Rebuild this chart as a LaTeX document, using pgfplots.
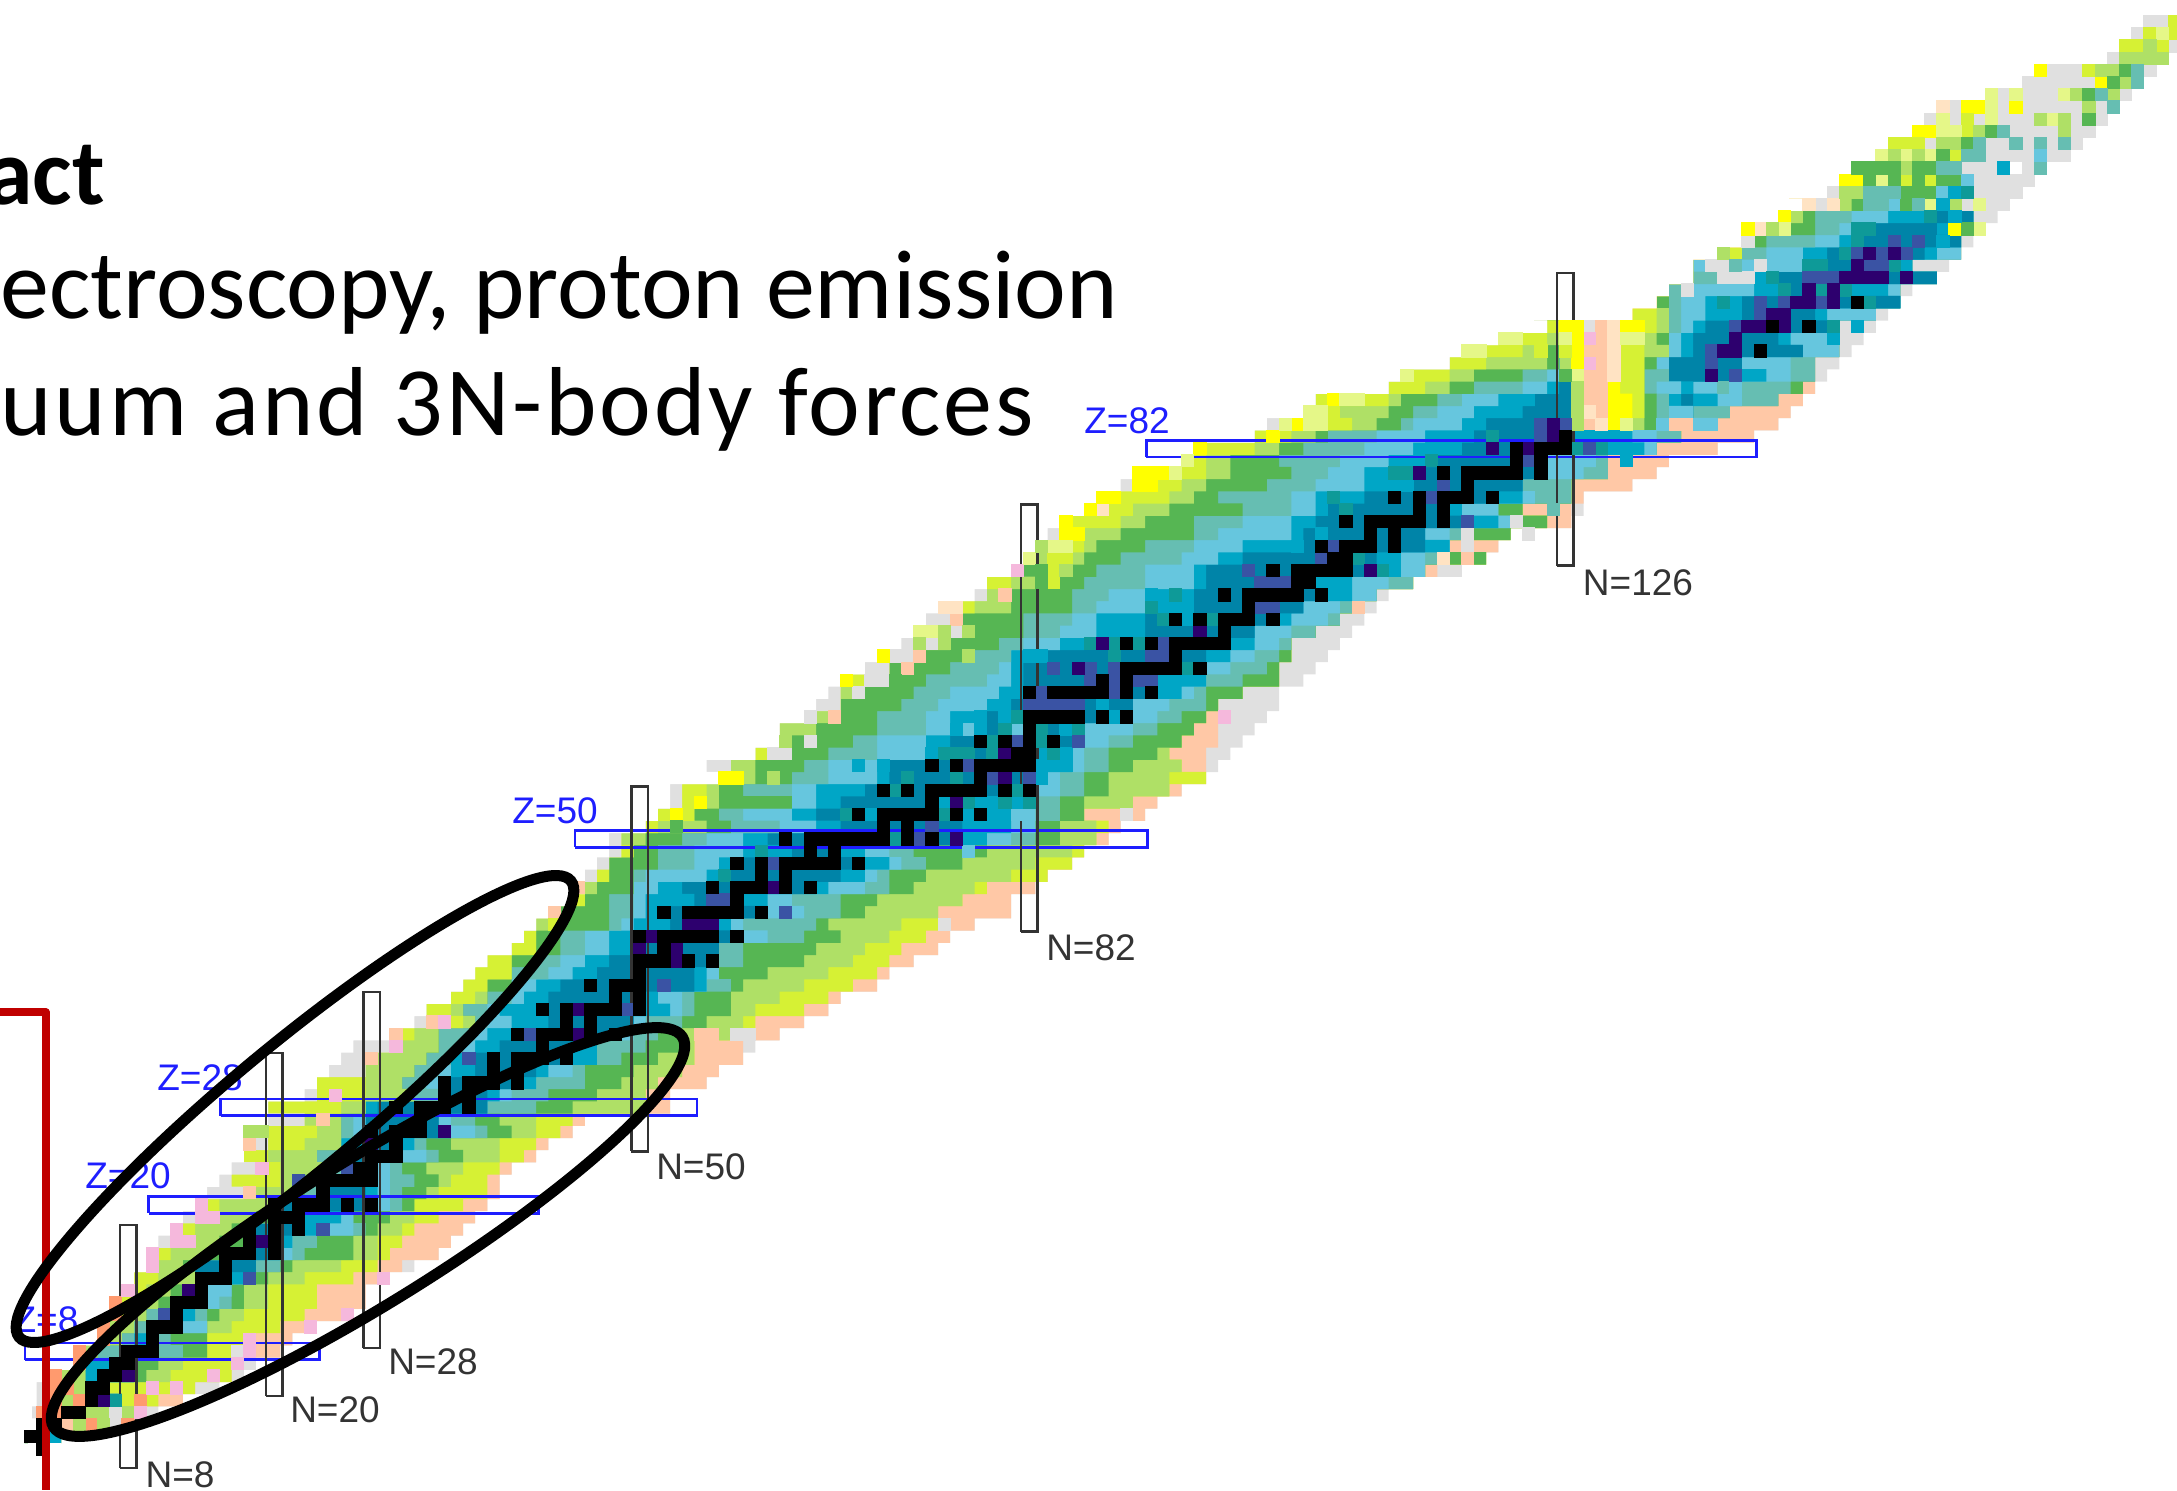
\documentclass[border=0pt]{standalone}
\usepackage{fontspec}
\setmainfont{Carlito}
\newfontfamily\lab{Liberation Sans}
\usepackage{pgfplots}
\usepackage{pgfplotstable}
\pgfplotsset{compat=1.18}
\definecolor{cgray}{HTML}{E0E0E0}
\definecolor{cpeach}{HTML}{FFC8A6}
\definecolor{cyel}{HTML}{FFFF00}
\definecolor{clime}{HTML}{D6F134}
\definecolor{cpale}{HTML}{E5F788}
\definecolor{clgreen}{HTML}{AFE066}
\definecolor{cgreen}{HTML}{56B653}
\definecolor{ctg}{HTML}{66BEB2}
\definecolor{clblue}{HTML}{66C6DE}
\definecolor{ccyan}{HTML}{00A6C6}
\definecolor{cteal}{HTML}{0E9A98}
\definecolor{cdeep}{HTML}{0084A8}
\definecolor{cblue}{HTML}{3A53A4}
\definecolor{cpurple}{HTML}{2D006E}
\definecolor{cpink}{HTML}{F5B8DC}
\definecolor{clpeach}{HTML}{FFE3C3}
\definecolor{csalmon}{HTML}{FF9A6E}
\definecolor{cred}{HTML}{C00000}
\definecolor{cbox}{HTML}{333333}
\definecolor{cz}{HTML}{1E1EFF}
% last N of each colour band, row by row (left to right along the row)
\pgfplotstableread{
Z W g1 l1 a1 G1 t1 b1 c1 e c2 b2 t2 G2 a2 l2 o g2
1 -1 -1 -1 -1 -1 -1 -1 -1 1 2 2 2 2 2 2 2 2
2 0 0 0 0 0 0 0 0 2 2 2 2 2 2 2 8 8
3 -1 0 0 2 2 2 2 2 4 4 4 4 4 8 8 8 10
4 0 1 1 3 3 3 3 3 7 7 7 7 7 7 10 12 12
5 0 1 1 4 4 4 4 4 6 6 6 6 6 6 13 13 15
6 1 1 1 4 4 4 4 5 8 8 8 8 9 11 16 16 17
7 3 3 3 4 4 4 4 6 8 8 8 8 10 12 16 17 18
8 3 3 3 5 5 7 7 7 10 10 10 12 14 14 16 20 20
9 5 5 6 7 7 8 8 9 10 10 10 11 14 14 17 21 21
10 5 5 6 8 8 9 9 9 12 12 14 14 14 16 20 23 23
11 6 6 8 9 9 10 10 10 12 13 13 14 15 17 22 26 26
12 6 6 8 10 11 11 11 11 14 14 15 16 17 19 23 27 27
13 7 7 9 11 12 12 12 13 14 14 16 16 17 19 23 27 27
14 8 8 10 13 13 13 13 13 16 17 18 18 19 22 26 28 29
15 9 9 10 12 13 13 13 13 18 18 18 20 21 25 28 30 31
16 9 9 11 14 15 15 15 15 20 20 21 22 26 28 29 33 33
17 10 11 13 15 17 17 17 17 20 21 21 23 26 28 30 34 34
18 11 11 13 16 18 18 18 18 22 23 26 27 28 30 31 35 35
19 12 13 15 18 19 19 19 19 22 25 26 26 29 31 33 36 36
20 13 13 15 19 19 19 19 19 28 28 29 30 31 31 35 37 37
21 14 17 18 21 22 23 24 24 27 28 29 30 32 33 37 38 38
22 15 16 20 22 22 23 23 23 28 28 29 31 33 34 37 38 38
23 16 18 20 24 24 25 25 25 28 28 29 30 32 35 38 39 39
24 17 17 19 23 23 25 25 25 30 30 32 33 35 38 40 41 41
25 17 19 22 25 25 25 25 27 30 31 31 32 34 38 41 42 42
26 17 17 23 25 25 26 27 27 34 34 36 37 39 41 43 44 44
27 19 22 22 25 25 26 27 27 33 33 34 36 38 41 44 45 45
28 19 19 25 27 27 27 27 28 37 37 37 41 44 50 50 52 52
29 22 23 27 31 31 33 33 33 37 38 39 42 46 50 50 52 52
30 23 23 27 30 30 32 33 33 40 41 41 45 48 51 51 55 55
31 24 27 27 31 31 33 34 36 41 42 44 45 49 53 53 56 56
32 25 27 28 32 32 34 34 36 44 46 46 48 51 54 54 58 58
33 26 29 30 33 33 35 36 38 44 46 46 50 53 54 54 58 59
34 29 29 31 33 33 36 37 40 48 48 49 51 53 57 57 61 61
35 31 32 35 36 36 37 39 42 49 49 50 53 55 58 59 63 63
36 32 32 34 35 35 37 38 41 50 52 53 54 57 59 63 65 65
37 34 34 36 37 37 39 40 42 50 51 53 54 57 61 65 66 66
38 35 35 37 37 39 39 41 43 54 55 55 57 58 63 67 69 69
39 36 36 39 39 39 42 44 46 54 55 56 56 60 65 69 70 70
40 37 37 39 39 41 43 45 47 56 56 56 58 63 67 70 72 72
41 39 39 41 41 43 45 47 49 56 56 56 58 64 68 71 74 74
42 40 40 41 41 43 45 47 49 58 58 60 63 66 70 73 75 75
43 41 41 41 42 47 48 49 52 56 57 58 64 65 71 74 77 77
44 42 42 42 43 47 49 50 51 60 60 63 66 68 74 74 80 80
45 44 44 45 45 47 49 50 54 58 60 62 66 69 76 76 80 80
46 45 45 45 46 49 49 51 53 64 65 68 70 72 77 78 82 82
47 45 46 47 47 49 50 55 57 66 68 69 70 73 80 83 83 83
48 46 47 47 47 51 54 56 57 68 70 71 73 76 82 85 85 85
49 47 48 49 49 51 54 58 62 66 68 70 72 78 85 86 86 86
50 47 48 48 50 53 55 58 60 76 78 80 82 84 87 87 88 88
51 50 50 51 55 57 61 64 66 76 80 82 82 84 87 88 89 89
52 51 51 54 54 56 58 62 64 78 80 82 84 86 86 86 91 91
53 52 53 55 56 62 62 64 66 76 82 82 84 86 90 90 92 92
54 52 53 55 56 58 62 64 68 82 82 84 86 88 93 93 94 94
55 56 56 58 59 62 65 69 70 82 83 84 86 88 93 96 96 96
56 55 57 57 59 63 65 69 70 82 85 86 88 90 94 94 96 97
57 59 59 60 60 65 69 73 75 82 85 86 88 92 93 93 96 98
58 61 62 62 62 67 69 73 75 86 86 88 90 94 94 94 97 99
59 61 61 61 64 69 73 75 78 84 85 90 92 95 95 95 97 100
60 63 64 64 65 69 73 75 78 90 90 92 94 96 96 96 98 101
61 64 66 66 66 71 74 78 80 90 90 93 96 97 97 97 97 102
62 65 66 66 67 72 75 79 81 92 94 95 96 99 99 99 99 102
63 66 66 68 71 73 78 80 81 92 96 96 99 102 102 102 102 104
64 68 70 70 70 75 79 80 81 96 96 98 101 102 102 102 102 105
65 69 69 70 70 76 80 80 82 96 98 100 102 103 103 103 103 106
66 71 72 72 75 79 81 84 86 98 100 102 103 103 103 103 103 107
67 72 72 74 75 81 84 87 91 100 100 103 105 105 105 105 105 108
68 73 75 75 75 81 85 87 91 102 103 106 107 107 107 107 107 109
69 74 74 77 80 85 87 91 95 104 104 107 108 108 108 108 109 110
70 77 78 78 80 85 88 91 95 106 108 110 110 110 110 110 110 111
71 78 78 80 82 86 91 95 96 105 108 111 113 113 113 113 113 113
72 80 80 81 81 87 91 95 96 110 112 114 114 114 114 114 115 117
73 81 81 82 86 89 94 97 99 110 112 114 115 119 119 119 119 119
74 82 82 86 87 91 95 99 103 114 116 116 116 116 116 116 120 120
75 83 84 86 89 95 97 103 104 114 114 116 117 121 121 121 121 121
76 84 84 89 91 95 99 103 105 118 120 121 121 124 124 124 126 126
77 86 86 90 93 99 103 105 106 116 117 120 120 122 122 122 126 127
78 87 87 93 95 97 103 105 109 120 122 123 126 126 126 126 127 127
79 89 90 94 96 101 105 109 111 122 122 122 126 126 126 126 131 131
80 91 91 96 98 103 106 109 111 124 124 127 129 129 129 129 133 133
81 94 94 96 98 102 107 111 115 124 124 128 129 129 129 129 134 134
82 95 95 100 102 104 109 113 117 128 132 133 133 133 133 133 138 138
83 100 100 103 105 106 110 114 118 126 131 133 135 135 135 135 141 141
84 101 102 108 110 112 113 117 119 126 126 126 126 126 126 126 126 126
85 104 104 107 111 113 115 118 122 126 126 126 126 126 126 126 126 126
86 105 105 111 112 115 117 120 123 126 126 126 126 126 126 126 126 126
87 111 111 114 116 118 122 124 125 126 126 126 126 126 126 126 126 126
88 112 112 116 118 122 124 125 125 126 126 126 126 126 126 126 126 126
89 116 116 119 124 125 125 125 125 125 125 125 125 125 126 126 126 126
90 117 117 122 123 125 125 125 125 125 125 125 125 125 125 126 126 126
91 120 120 124 125 125 125 125 125 125 125 125 125 125 125 126 126 126
92 124 124 125 125 125 125 125 125 125 125 125 125 125 125 125 125 125
}\bands
% the heavy end, N above 126
\pgfplotstableread{
Z W p y l a G t b c e c2 b2 t2 G2 o g
84 126 129 130 131 132 133 133 134 134 134 134 138 138 138 143 143
85 126 129 131 132 132 133 134 136 136 136 136 136 139 139 144 144
86 126 129 131 132 132 133 134 134 135 136 138 140 143 143 145 145
87 126 129 130 132 132 132 133 135 136 136 136 140 144 145 146 146
88 126 129 130 132 132 132 134 134 134 140 142 144 146 146 146 147
89 126 129 130 132 132 133 133 134 134 140 140 144 146 146 146 148
90 126 130 130 132 134 134 134 135 136 145 145 148 148 148 148 149
91 126 130 130 132 133 134 134 135 136 143 144 147 147 147 147 150
92 125 130 132 133 134 134 135 136 137 147 147 147 148 148 148 151
93 131 131 131 133 134 134 135 137 140 146 147 151 151 151 151 152
94 133 133 133 133 133 134 135 137 140 153 153 153 153 153 153 153
95 134 134 134 134 134 134 135 141 143 149 152 153 153 153 153 154
96 136 136 136 136 136 136 138 141 142 156 156 156 156 156 156 156
97 136 136 136 136 136 136 136 145 145 153 154 154 154 154 154 157
98 138 138 138 140 140 140 142 145 147 155 156 158 158 158 158 158
99 140 140 140 140 140 142 146 148 150 158 158 158 158 158 158 159
100 140 140 140 140 144 146 148 149 150 156 157 157 157 157 157 160
101 143 143 143 143 145 146 149 152 155 159 159 159 159 159 159 161
102 145 145 145 145 149 150 152 153 153 153 153 153 155 155 155 162
}\heavy
\begin{document}
\begin{tikzpicture}
\begin{axis}[
    at={(0,0)},anchor=south west,
    width=1088.5pt,height=745pt,scale only axis,
    hide axis,
    xmin=-2.512,xmax=176.22,ymin=-3.36,ymax=118.77,
    band/.style={xbar,bar shift=0pt,bar width=1.02,draw=none,forget plot},
    cell/.style={only marks,mark=square*,mark size=3.05pt,color=#1,mark options={fill=#1,draw=#1,line width=0pt},forget plot},
    box/.style={no markers,line width=1.25pt,forget plot},
]
% heavy end first, the main table paints over it
\addplot[band,fill=cgray] table[y=Z,x expr=\thisrow{g}+0.5] {\heavy};
\addplot[band,fill=cpeach] table[y=Z,x expr=\thisrow{o}+0.5] {\heavy};
\addplot[band,fill=cgreen] table[y=Z,x expr=\thisrow{G2}+0.5] {\heavy};
\addplot[band,fill=ctg] table[y=Z,x expr=\thisrow{t2}+0.5] {\heavy};
\addplot[band,fill=clblue] table[y=Z,x expr=\thisrow{b2}+0.5] {\heavy};
\addplot[band,fill=ccyan] table[y=Z,x expr=\thisrow{c2}+0.5] {\heavy};
\addplot[band,fill=cdeep] table[y=Z,x expr=\thisrow{e}+0.5] {\heavy};
\addplot[band,fill=ccyan] table[y=Z,x expr=\thisrow{c}+0.5] {\heavy};
\addplot[band,fill=clblue] table[y=Z,x expr=\thisrow{b}+0.5] {\heavy};
\addplot[band,fill=ctg] table[y=Z,x expr=\thisrow{t}+0.5] {\heavy};
\addplot[band,fill=cgreen] table[y=Z,x expr=\thisrow{G}+0.5] {\heavy};
\addplot[band,fill=clgreen] table[y=Z,x expr=\thisrow{a}+0.5] {\heavy};
\addplot[band,fill=clime] table[y=Z,x expr=\thisrow{l}+0.5] {\heavy};
\addplot[band,fill=cyel] table[y=Z,x expr=\thisrow{y}+0.5] {\heavy};
\addplot[band,fill=cpeach] table[y=Z,x expr=\thisrow{p}+0.5] {\heavy};
\addplot[band,fill=white] table[y=Z,x expr=\thisrow{W}+0.5] {\heavy};
% white over the fringe along the top of the heavy rows
\addplot[band,fill=white,bar width=1.3] coordinates {(144.4,103)};
% main table
\addplot[band,fill=cgray] table[y=Z,x expr=\thisrow{g2}+0.5] {\bands};
\addplot[band,fill=cpeach] table[y=Z,x expr=\thisrow{o}+0.5] {\bands};
\addplot[band,fill=clime] table[y=Z,x expr=\thisrow{l2}+0.5] {\bands};
\addplot[band,fill=clgreen] table[y=Z,x expr=\thisrow{a2}+0.5] {\bands};
\addplot[band,fill=cgreen] table[y=Z,x expr=\thisrow{G2}+0.5] {\bands};
\addplot[band,fill=ctg] table[y=Z,x expr=\thisrow{t2}+0.5] {\bands};
\addplot[band,fill=clblue] table[y=Z,x expr=\thisrow{b2}+0.5] {\bands};
\addplot[band,fill=ccyan] table[y=Z,x expr=\thisrow{c2}+0.5] {\bands};
\addplot[band,fill=cdeep] table[y=Z,x expr=\thisrow{e}+0.5] {\bands};
\addplot[band,fill=ccyan] table[y=Z,x expr=\thisrow{c1}+0.5] {\bands};
\addplot[band,fill=clblue] table[y=Z,x expr=\thisrow{b1}+0.5] {\bands};
\addplot[band,fill=ctg] table[y=Z,x expr=\thisrow{t1}+0.5] {\bands};
\addplot[band,fill=cgreen] table[y=Z,x expr=\thisrow{G1}+0.5] {\bands};
\addplot[band,fill=clgreen] table[y=Z,x expr=\thisrow{a1}+0.5] {\bands};
\addplot[band,fill=clime] table[y=Z,x expr=\thisrow{l1}+0.5] {\bands};
\addplot[band,fill=cgray] table[y=Z,x expr=\thisrow{g1}+0.5] {\bands};
\addplot[band,fill=white] table[y=Z,x expr=\thisrow{W}+0.5] {\bands};
% and over the fringes of the main rows
\addplot[band,fill=white,bar width=1.3] coordinates {(123.4,93)};
\addplot[band,fill=white,bar width=1] coordinates {(2.5,0)};
\addplot[no markers,white,line width=2pt,forget plot] coordinates {(-0.08,0) (-0.08,104)};
% single cells that break the bands
\addplot[cell=cgray] coordinates {(7,2)(7,3)(17,8)(75,43)(58,34)(59,34)(90,52)(64,58)(64,60)(68,62)(69,63)(70,63)(71,65)(72,65)(74,66)(76,67)(61,57)(62,57)(118,74)(118,75)(123,75)(122,76)(128,92)(136,95)(139,96)(140,96)(141,96)(138,97)(139,97)(142,97)(141,99)(147,102)(159,102)(161,102)(162,102)
(148,103)(160,103)(161,103)(162,103)(163,103)(160,104)(161,104)(162,104)(163,104)(164,104)(159,105)(160,105)(161,105)(164,105)(161,106)(162,106)(163,106)(164,106)(166,106)(167,106)
(156,107)(161,107)(162,107)(164,107)(166,107)(168,107)(163,108)(164,108)(165,108)(166,108)(168,108)(169,108)(156,109)(158,109)(160,109)(162,109)(163,109)(164,109)(168,109)(170,109)
(158,110)(162,110)(164,110)(165,110)(166,110)(167,110)(168,110)(170,110)(162,111)(164,111)(165,111)(166,111)(172,111)(164,112)(165,112)(166,112)(167,112)(168,112)(169,112)
(166,113)(167,113)(168,113)(174,113)(171,114)(176,115)(173,116)(174,117)(175,117)};
\addplot[cell=cpeach] coordinates {(3,2)(43,44)(55,34)(56,34)(45,46)(18,21)(18,25)(28,32)(30,34)(33,35)(24,27)(66,60)(72,64)(73,65)(76,68)(80,70)(118,73)(135,84)(136,84)(129,92)(109,69)};
\addplot[cell=csalmon] coordinates {(5,2)(8,2)(1,3)(2,3)(2,4)(4,4)(9,4)(2,5)(3,5)(2,6)(4,7)(4,8)(6,9)(6,10)(7,11)(7,12)};
\addplot[cell=cpink] coordinates {(9,3)(10,5)(12,5)(15,6)(17,7)(18,8)(18,9)(23,10)(26,11)(8,13)(29,14)(10,15)(10,16)(12,17)(13,17)(12,18)(14,19)(15,19)(14,20)(19,23)(25,29)(30,33)(34,35)(98,60)(81,72)(128,91)(128,89)};
\addplot[cell=clpeach] coordinates {(75,69)(76,69)(88,77)(116,73)(130,91)(130,92)(130,90)(130,89)(130,88)(142,100)(146,102)(148,102)(157,110)(129,84)(128,85)};
\addplot[cell=cyel] coordinates {(53,52)(55,53)(57,55)(58,55)(67,63)(70,65)(85,75)(86,75)(85,76)(87,77)(88,78)(89,78)(91,79)(92,79)(92,80)(93,80)(91,80)(96,82)(102,83)(104,84)(107,86)(126,92)(127,92)(127,91)(127,90)(127,89)(144,101)(141,100)(158,100)
(149,104)(150,104)(155,108)(156,108)(159,110)(160,110)(163,110)(170,112)(165,113)(131,92)(132,92)};
\addplot[cell=clime] coordinates {(124,90)(84,71)(84,72)(84,73)(85,73)(43,43)(126,90)(154,104)(156,104)(153,107)(154,107)(155,107)(159,108)(159,109)(158,106)(169,113)(172,115)(173,115)(175,115)(174,116)(176,116)(176,117)};
\addplot[cell=cpale] coordinates {(94,80)(95,81)(105,85)(106,85)(103,84)(105,84)(106,84)(108,86)(109,86)(113,88)(118,90)(119,90)(121,91)(122,91)(82,73)(84,74)(85,74)(126,91)(127,88)(144,100)(160,100)(156,102)(160,102)(152,104)
(152,106)(154,106)(156,106)(157,109)(161,109)(166,109)(161,110)(161,111)(163,111)(167,111)(175,116)(131,84)(131,91)(132,91)(157,108)(158,108)(73,67)(74,67)};
\addplot[cell=clgreen] coordinates {(4,2)(6,2)(85,72)(83,74)(61,55)(18,26)(19,26)(127,84)(127,85)(127,86)(127,87)(139,98)(158,102)(149,103)(150,103)(154,105)(153,106)(155,106)(157,107)(158,107)(160,108)(167,108)(165,109)(167,109)(169,110)(168,111)(171,111)(172,112)(170,113)(171,113)(172,114)(173,114)(174,114)(175,114)(174,115)(62,58)(77,65)(73,66)(75,66)(75,67)(77,67)(143,100)};
\addplot[cell=cgreen] coordinates {(126,88)(83,72)(83,71)(53,51)(71,63)(159,100)(154,102)(154,103)(155,103)(156,103)(151,104)(153,104)(155,104)(157,104)(158,104)(150,105)(151,105)(152,105)(153,105)(155,105)(156,105)(157,106)(159,107)(161,108)(169,109)(169,111)(171,112)(172,113)};
\addplot[cell=ctg] coordinates {(125,77)(139,87)(140,97)(157,105)(158,105)(159,106)(160,106)(160,107)(163,107)(165,107)(167,107)(162,108)(171,110)(170,111)(173,112)(173,113)(165,105)(151,103)(152,103)(153,103)(155,102)(151,102)(152,102)};
\addplot[cell=clblue] coordinates {(81,52)(81,53)(77,59)(81,59)(83,61)(140,87)(157,103)(159,104)(165,106)(137,84)(138,84)(134,84)(57,45)(77,49)};
\addplot[cell=ccyan] coordinates {(77,52)(79,52)(75,53)(79,53)(81,53)(83,55)(83,56)(85,56)(85,57)(76,59)(78,59)(85,59)(78,60)(80,60)(89,60)(88,61)(82,65)(83,65)(95,68)(131,81)(148,91)(150,92)(157,99)(158,103)(162,105)(157,102)(158,101)(74,51)(69,52)(70,54)(68,56)(70,56)(74,57)(60,47)(92,70)(104,74)(106,75)(112,79)(113,79)(110,76)(111,76)};
\addplot[cell=cteal] coordinates {(71,50)(67,52)(75,52)(77,53)(80,53)(82,53)(71,54)(81,54)(72,55)(76,55)(75,57)(76,57)(77,57)(79,57)(84,57)(79,58)(83,58)(80,59)(83,59)(86,59)(81,60)(95,64)(89,65)(87,66)(89,66)(91,66)(93,68)(97,68)(92,69)(94,70)(148,92)(139,94)(150,94)(151,94)(144,95)(147,95)(149,95)(143,96)(146,97)(147,97)(153,97)(149,98)(150,99)(150,100)(151,100)(156,101)(159,103)(7,4)(59,46)(57,47)(60,49)(108,72)(111,72)(106,73)(109,73)(107,78)(108,77)(112,80)(113,80)(115,81)(120,83)(127,82)(129,82)};
\addplot[cell=cblue] coordinates {(11,11)(18,14)(22,22)(24,18)(26,23)(36,32)(41,34)(49,36)(52,38)(56,45)(57,45)(61,48)(62,44)(73,50)(74,51)(77,56)(79,55)(82,55)(81,58)(86,58)(82,61)(83,61)(84,61)(85,61)(86,61)(83,62)(89,62)(87,63)(89,63)(91,63)(92,63)(84,64)(87,64)(89,64)(92,65)(93,65)(93,66)(100,72)(102,71)(103,71)(101,71)(100,69)(101,69)(102,69)(107,74)(106,73)(115,78)(116,79)(118,76)(123,81)(124,83)(124,84)(125,84)(126,84)(128,82)(140,88)(138,89)(138,90)(140,92)(142,93)(142,94)(144,94)(147,94)(146,96)(147,96)(148,96)(151,97)(152,97)(150,98)(152,98)(154,98)(153,99)(155,99)};
\addplot[cell=cpurple] coordinates {(6,4)(8,6)(13,13)(19,17)(28,25)(34,26)(45,34)(45,36)(50,41)(53,41)(53,40)(51,42)(54,43)(55,43)(56,43)(61,46)(76,50)(76,53)(80,55)(80,57)(84,62)(86,64)(88,66)(96,67)(110,72)(114,80)(120,82)(123,82)(125,83)(125,84)
(138,88)(139,90)(140,90)(140,91)(141,92)(142,92)(144,92)(143,93)(144,93)(145,94)(146,94)(148,94)(146,95)(148,95)(149,96)(150,96)(151,96)(152,96)(154,96)(150,97)(151,98)(153,98)};
% stable and very long-lived nuclides
\addplot[cell=black] coordinates {
(0,1)(1,1)(1,0)(1,2)(2,2)(3,3)(4,3)(5,4)(5,5)(6,5)(6,6)(7,6)(7,7)(8,7)(8,8)(9,8)(10,8)(10,9)(10,10)(11,10)(12,10)(12,11)(12,12)(13,12)(14,12)(14,13)(14,14)(15,14)(16,14)(16,15)(16,16)(17,16)(18,16)(20,16)(18,17)(20,17)(18,18)(20,18)(22,18)(20,19)(21,19)(22,19)
(20,20)(22,20)(23,20)(24,20)(26,20)(28,20)(24,21)(24,22)(25,22)(26,22)(27,22)(28,22)(27,23)(28,23)(26,24)(28,24)(29,24)(30,24)(30,25)(28,26)(30,26)(31,26)(32,26)(32,27)(30,28)(32,28)(33,28)(34,28)(36,28)(34,29)(36,29)(34,30)(36,30)(37,30)(38,30)(40,30)(38,31)(40,31)(38,32)(40,32)(41,32)(42,32)(44,32)(42,33)
(40,34)(42,34)(43,34)(44,34)(46,34)(48,34)(44,35)(46,35)(42,36)(44,36)(46,36)(47,36)(48,36)(50,36)(48,37)(50,37)(46,38)(48,38)(49,38)(50,38)(50,39)(50,40)(51,40)(52,40)(54,40)(56,40)(52,41)(50,42)(52,42)(53,42)(54,42)(55,42)(56,42)(58,42)
(52,44)(54,44)(55,44)(56,44)(57,44)(58,44)(60,44)(58,45)(56,46)(58,46)(59,46)(60,46)(62,46)(64,46)(60,47)(62,47)(58,48)(60,48)(62,48)(63,48)(64,48)(65,48)(66,48)(68,48)(64,49)(66,49)
(62,50)(64,50)(65,50)(66,50)(67,50)(68,50)(69,50)(70,50)(72,50)(74,50)(70,51)(72,51)(68,52)(70,52)(71,52)(72,52)(73,52)(74,52)(76,52)(78,52)(74,53)(70,54)(72,54)(74,54)(75,54)(76,54)(77,54)(78,54)(80,54)(82,54)(78,55)
(74,56)(76,56)(78,56)(79,56)(80,56)(81,56)(82,56)(81,57)(82,57)(78,58)(80,58)(82,58)(84,58)(82,59)(82,60)(83,60)(84,60)(85,60)(86,60)(88,60)(90,60)
(82,62)(84,62)(85,62)(86,62)(87,62)(88,62)(90,62)(92,62)(88,63)(90,63)(90,64)(91,64)(92,64)(93,64)(94,64)(96,64)(94,65)(90,66)(92,66)(94,66)(95,66)(96,66)(97,66)(98,66)(98,67)
(94,68)(96,68)(98,68)(99,68)(100,68)(102,68)(100,69)(98,70)(100,70)(101,70)(102,70)(103,70)(104,70)(106,70)(104,71)(105,71)(102,72)(104,72)(105,72)(106,72)(107,72)(108,72)(107,73)(108,73)(106,74)(108,74)(109,74)(110,74)(112,74)(110,75)(112,75)
(108,76)(110,76)(111,76)(112,76)(113,76)(114,76)(116,76)(114,77)(116,77)(112,78)(114,78)(116,78)(117,78)(118,78)(120,78)(118,79)(116,80)(118,80)(119,80)(120,80)(121,80)(122,80)(124,80)(122,81)(124,81)(122,82)(124,82)(125,82)(126,82)(126,83)
(142,90)(143,92)(146,92)(150,94)};
% the magic-number boxes
\addplot[box,color=cz] coordinates {(-0.45,7.32)(23.7,7.32)(23.7,8.68)(-0.45,8.68)(-0.45,7.32)};
\addplot[box,color=cz] coordinates {(9.7,19.32)(41.7,19.32)(41.7,20.68)(9.7,20.68)(9.7,19.32)};
\addplot[box,color=cz] coordinates {(15.6,27.32)(54.7,27.32)(54.7,28.68)(15.6,28.68)(15.6,27.32)};
\addplot[box,color=cz] coordinates {(44.7,49.32)(91.7,49.32)(91.7,50.68)(44.7,50.68)(44.7,49.32)};
\addplot[box,color=cz] coordinates {(91.6,81.32)(141.7,81.32)(141.7,82.68)(91.6,82.68)(91.6,81.32)};
\addplot[box,color=cbox] coordinates {(7.32,-1.56)(8.68,-1.56)(8.68,18.36)(7.32,18.36)(7.32,-1.56)};
\addplot[box,color=cbox] coordinates {(19.32,4.34)(20.68,4.34)(20.68,32.46)(19.32,32.46)(19.32,4.34)};
\addplot[box,color=cbox] coordinates {(27.32,8.28)(28.68,8.28)(28.68,37.46)(27.32,37.46)(27.32,8.28)};
\addplot[box,color=cbox] coordinates {(49.32,24.4)(50.68,24.4)(50.68,54.3)(49.32,54.3)(49.32,24.4)};
\addplot[box,color=cbox] coordinates {(81.32,42.4)(82.68,42.4)(82.68,77.4)(81.32,77.4)(81.32,42.4)};
\addplot[box,color=cbox] coordinates {(125.32,72.4)(126.68,72.4)(126.68,96.4)(125.32,96.4)(125.32,72.4)};
\end{axis}
\begin{scope}[x=0.5pt,y=-0.5pt,shift={(0,745pt)}]
  % labels, in pixels of the reference
  \foreach \x/\y/\t in {46/1320/Z=8,128/1176/Z=20,200/1078/Z=28,555/811/Z=50,1127/421/Z=82}
    \node[text=cz,font={\lab\fontsize{18.5}{20}\selectfont},inner sep=0] at (\x,\y) {\t};
  \foreach \x/\y/\t in {180/1475/N=8,335/1410/N=20,433/1362/N=28,701/1167/N=50,1091/948/N=82,1638/583/N=126}
    \node[text=cbox,font={\lab\fontsize{18.5}{20}\selectfont},inner sep=0] at (\x,\y) {\t};
  \node[anchor=base west,inner sep=0,font={\fontsize{47}{50}\selectfont\bfseries}] at (-14,205) {act};
  \node[anchor=base west,inner sep=0,font={\fontsize{49}{52}\selectfont}] at (0,319) {ectroscopy, proton emission};
  \node[anchor=base west,inner sep=0,font={\fontsize{49}{52}\selectfont\addfontfeatures{LetterSpace=3}}] at (0,436) {uum and 3N-body forces};
  \draw[cred,line width=3.6pt,line join=round] (0,1012) -- (46,1012) -- (46,1490);
  \draw[line width=5.5pt,shift={(295,1109)},rotate=39.6] (0,0) ellipse (358 and 64);
  \draw[line width=5.5pt,shift={(368,1232)},rotate=31.8] (0,0) ellipse (370 and 72);
\end{scope}
\pgfresetboundingbox
\path[use as bounding box] (0,0) rectangle (1088.5pt,745pt);
\end{tikzpicture}
\end{document}
